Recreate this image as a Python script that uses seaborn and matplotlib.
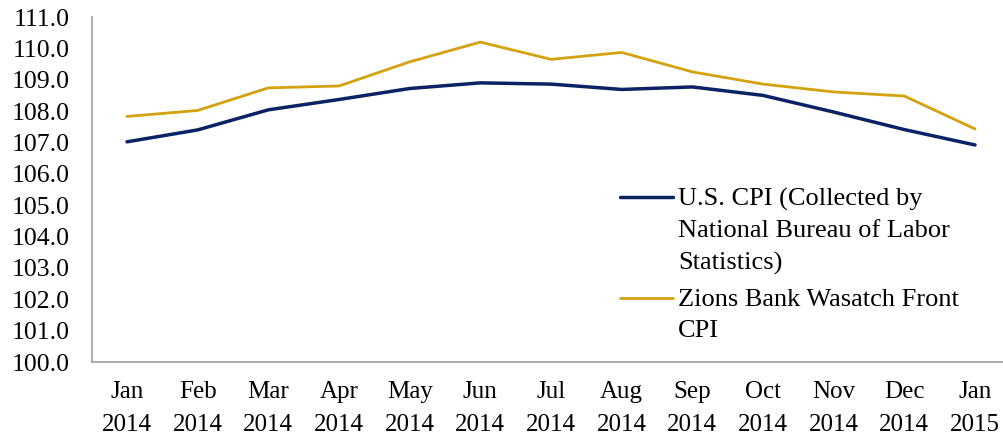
import matplotlib
matplotlib.use("Agg")
import matplotlib.pyplot as plt
import seaborn as sns
import pandas as pd
from matplotlib.lines import Line2D

months = ["Jan\n2014", "Feb\n2014", "Mar\n2014", "Apr\n2014", "May\n2014", "Jun\n2014",
          "Jul\n2014", "Aug\n2014", "Sep\n2014", "Oct\n2014", "Nov\n2014", "Dec\n2014",
          "Jan\n2015"]
us_cpi = [107.02, 107.40, 108.04, 108.37, 108.72, 108.90, 108.86, 108.69, 108.77,
          108.50, 107.97, 107.41, 106.92]
zions_cpi = [107.83, 108.02, 108.74, 108.80, 109.57, 110.20, 109.65, 109.87, 109.25,
             108.86, 108.61, 108.48, 107.43]
series_names = ["U.S. CPI (Collected by\nNational Bureau of Labor\nStatistics)",
                "Zions Bank Wasatch Front\nCPI"]
y_ticks = [100 + i for i in range(12)]

sns.set_theme(style="white")
plt.rcParams['font.family'] = ['Liberation Serif', 'DejaVu Serif']
plt.rcParams['text.color'] = 'black'

df = pd.DataFrame({
    "x": list(range(len(months))) * 2,
    "value": us_cpi + zions_cpi,
    "series": [series_names[0]] * len(months) + [series_names[1]] * len(months),
})

fig = plt.figure(figsize=(10.04, 4.36), dpi=100)
ax = fig.add_axes([92 / 1004, 1 - 362 / 436, 1 - 92 / 1004, (362 - 17) / 436])

palette = {series_names[0]: "#0B2265", series_names[1]: "#D4A20E"}
sns.lineplot(data=df, x="x", y="value", hue="series", palette=palette, ax=ax,
             legend=False)
ax.lines[0].set_linewidth(2.5)
ax.lines[1].set_linewidth(2.0)

ax.set_xlim(-0.495, 12.41)
ax.set_ylim(100, 111)
ax.set_yticks(y_ticks)
ax.set_yticklabels([f"{v:.1f}" for v in y_ticks], fontsize=18.5)
ax.set_xticks(range(len(months)))
ax.set_xticklabels(months, fontsize=18)
for t in ax.get_xticklabels():
    t.set_linespacing(1.65)
ax.tick_params(axis="both", length=0, colors="black")
ax.tick_params(axis="x", pad=13.5)
ax.tick_params(axis="y", pad=16)
ax.set_xlabel("")
ax.set_ylabel("")
for s in ["top", "right"]:
    ax.spines[s].set_visible(False)
for s in ["left", "bottom"]:
    ax.spines[s].set_color("#A6A6A6")
    ax.spines[s].set_linewidth(1.3)

handles = [Line2D([], [], color=palette[n], lw=(2.5 if i == 0 else 2.0))
           for i, n in enumerate(series_names)]
leg = ax.legend(handles, series_names, loc="upper left",
                bbox_to_anchor=(620 / 1004, 1 - 188 / 436), bbox_transform=fig.transFigure,
                frameon=False, fontsize=19, handlelength=2.0, handletextpad=0.2,
                labelspacing=0.51, borderpad=0, borderaxespad=0)
for t in leg.get_texts():
    t.set_linespacing(1.55)
    t.set_color("black")
try:
    for hp in leg._legend_handle_box.get_children()[0].get_children():
        hp.align = "top"
except Exception:
    pass

fig.savefig("out.png", dpi=100)
